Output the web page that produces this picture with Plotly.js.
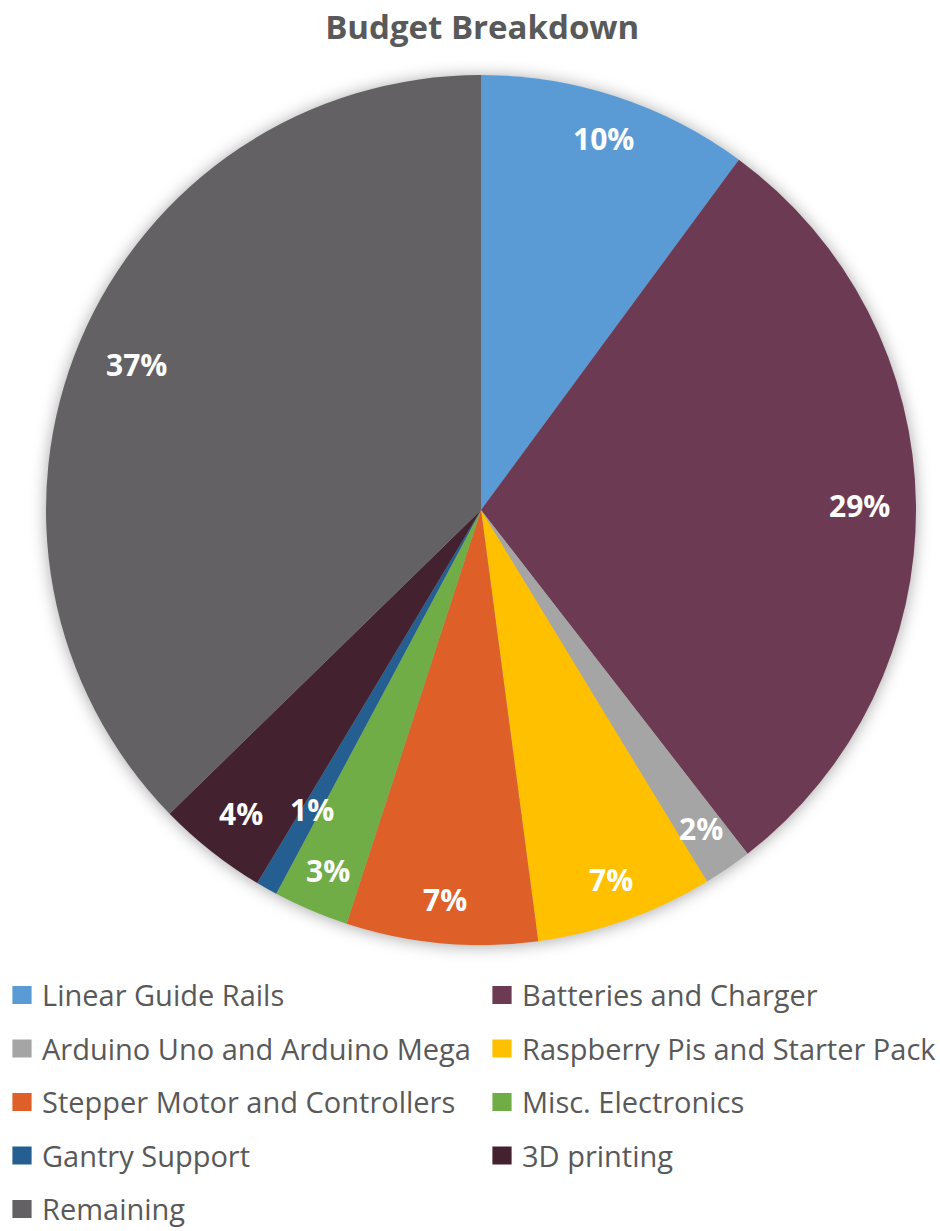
<!DOCTYPE html>
<html>
<head>
<meta charset="utf-8">
<script src="https://cdn.plot.ly/plotly-3.0.1.min.js"></script>
<style>
html,body{margin:0;padding:0;background:#fff;}
#chart{width:940px;height:1231px;}
.pielayer{filter:drop-shadow(0px 1px 8px rgba(0,0,0,0.35));}
</style>
</head>
<body>
<div id="chart"></div>
<script>
// ---- data ----
const categories = [
  "Linear Guide Rails",
  "Batteries and Charger",
  "Arduino Uno and Arduino Mega",
  "Raspberry Pis and Starter Pack",
  "Stepper Motor and Controllers",
  "Misc. Electronics",
  "Gantry Support",
  "3D printing",
  "Remaining"
];
const shares = [10.1, 29.4, 1.8, 6.6, 7.1, 2.8, 0.8, 4.1, 37.3];
const colors = ["#5B9BD5", "#6C3A52", "#A5A5A5", "#FFC000", "#DF5F29", "#70AD47", "#255E91", "#43212F", "#636164"];

// ---- layout helpers (label placement, not data) ----
const W = 940, H = 1231;
const CX = 481, CY = 510, R = 435;
const labelRadiusFrac = [0.9, 0.87, 0.89, 0.9, 0.9, 0.9, 0.79, 0.89, 0.86];
const FONT = "'Open Sans', 'Noto Sans', sans-serif";

const total = shares.reduce((a, b) => a + b, 0);
let cum = 0;
const annotations = shares.map((v, i) => {
  const mid = (cum + v / 2) / total * 2 * Math.PI;
  cum += v;
  const r = R * labelRadiusFrac[i];
  const px = CX + r * Math.sin(mid);
  const py = CY - r * Math.cos(mid);
  return {
    xref: "paper", yref: "paper",
    x: px / W, y: 1 - py / H,
    xanchor: "center", yanchor: "middle",
    text: "<b>" + Math.round(v / total * 100) + "%</b>",
    showarrow: false,
    font: {family: FONT, size: 30, color: "#ffffff"}
  };
});

const trace = {
  type: "pie",
  labels: categories,
  values: shares,
  sort: false,
  direction: "clockwise",
  rotation: 0,
  marker: {colors: colors, line: {width: 0}},
  textinfo: "none",
  hoverinfo: "skip",
  domain: {x: [(CX - R) / W, (CX + R) / W], y: [1 - (CY + R) / H, 1 - (CY - R) / H]}
};

const layout = {
  width: W, height: H,
  margin: {l: 0, r: 0, t: 0, b: 0, autoexpand: false},
  paper_bgcolor: "#ffffff",
  title: {
    text: "<b>Budget Breakdown</b>",
    x: 0.513, xanchor: "center",
    y: 1 - 27 / H, yanchor: "middle",
    font: {family: FONT, size: 33, color: "#595959"}
  },
  showlegend: true,
  legend: {
    orientation: "h",
    x: 0, xanchor: "left",
    y: 1 - 975 / H, yanchor: "top",
    entrywidth: 420, entrywidthmode: "pixels",
    font: {family: FONT, size: 29, color: "#595959"},
    bgcolor: "rgba(0,0,0,0)",
    traceorder: "normal"
  },
  annotations: annotations
};

Plotly.newPlot("chart", [trace], layout, {displayModeBar: false, staticPlot: true}).then(function (gd) {
  // arrange legend items into two columns with Excel-like row spacing
  const sb = gd.querySelector(".legend .scrollbox");
  if (sb) sb.removeAttribute("clip-path");
  const leg = gd.querySelector(".legend");
  if (leg) leg.removeAttribute("clip-path");
  const items = gd.querySelectorAll(".legend .traces");
  items.forEach(function (el, i) {
    const col = i % 2, row = Math.floor(i / 2);
    el.setAttribute("transform", "translate(" + (col * 480 + 2) + "," + (row * 53.5 + 20) + ")");
  });
  gd.querySelectorAll(".legend .legendpoints path").forEach(function (p) {
    const t = p.getAttribute("transform") || "";
    p.setAttribute("transform", t + " scale(1.6,1.5)");
  });
});
</script>
</body>
</html>
